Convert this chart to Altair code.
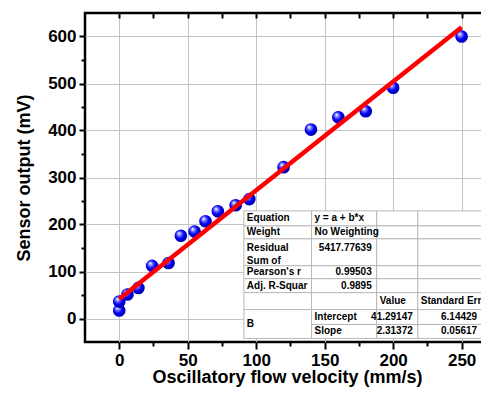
import altair as alt
import pandas as pd

# ---- data ----
velocity = [0, 0, 6, 14, 24, 36, 45, 55, 63, 72, 85, 95, 120, 140, 160, 180, 200, 250]
output = [17, 36, 51, 65, 112, 118, 176, 185, 207, 228, 241, 254, 322, 402, 428, 441, 491, 600]

fit_intercept = 41.29147
fit_slope = 2.31372
fit_range = [0, 250]

x_major = [0, 50, 100, 150, 200, 250]
x_minor = [25, 75, 125, 175, 225]
y_major = [0, 100, 200, 300, 400, 500, 600]
y_minor = [50, 150, 250, 350, 450, 550]

table_rows = [
    ["Equation", "y = a + b*x", "", ""],
    ["Weight", "No Weighting", "", ""],
    ["Residual\nSum of", "5417.77639", "", ""],
    ["Pearson's r", "0.99503", "", ""],
    ["Adj. R-Squar", "0.9895", "", ""],
    ["", "", "Value", "Standard Err"],
    ["B", "Intercept", "41.29147", "6.14429"],
    ["", "Slope", "2.31372", "0.05617"],
]

# ---- layout (in data units of the chart) ----
tcols = [91, 140.4, 188, 218, 265]
trows = [229, 197, 169.5, 112.3, 84.7, 55, 19, -12.7, -42.4]

FONT = "Liberation Sans"
W, H = 404, 329
xs = alt.Scale(domain=[-25, 270], nice=False, zero=False)
ys = alt.Scale(domain=[-50, 650], nice=False, zero=False)

pts = pd.DataFrame({"v": velocity, "s": output})

common_axis = dict(domain=False, tickColor="black", tickWidth=2, labelColor="black",
                   labelFont=FONT, labelFontWeight="bold", titleFont=FONT,
                   titleFontWeight="bold", titleColor="black")

grad = alt.RadialGradient(
    gradient="radial",
    stops=[alt.GradientStop(color="#ffffff", offset=0),
           alt.GradientStop(color="#8080ff", offset=0.22),
           alt.GradientStop(color="#0000ff", offset=0.55),
           alt.GradientStop(color="#000090", offset=1)],
    x1=0.35, y1=0.3, r1=0.02, x2=0.45, y2=0.45, r2=0.6)

points = alt.Chart(pts).mark_point(filled=True, shape="circle", size=160, fill=grad,
                                   opacity=1, strokeWidth=0).encode(
    x=alt.X("v:Q", scale=xs, axis=alt.Axis(
        orient="bottom", values=x_major, tickSize=7, labelFontSize=17, labelPadding=3,
        grid=True, gridColor="#c4c4c4", gridWidth=1,
        title="Oscillatory flow velocity (mm/s)", titleFontSize=18, titlePadding=0,
        **common_axis)),
    y=alt.Y("s:Q", scale=ys, axis=alt.Axis(
        orient="left", values=y_major, tickSize=6, labelFontSize=17, labelPadding=3,
        grid=True, gridColor="#c4c4c4", gridWidth=1,
        title="Sensor output (mV)", titleFontSize=18, titlePadding=14,
        **common_axis)),
)

minor = alt.Chart(pts).mark_point(opacity=0).encode(
    x=alt.X("v:Q", scale=xs, axis=alt.Axis(orient="bottom", values=x_minor, tickSize=4,
                                           labels=False, grid=False, title=None, **common_axis)),
    y=alt.Y("s:Q", scale=ys, axis=alt.Axis(orient="left", values=y_minor, tickSize=4,
                                           labels=False, grid=False, title=None, **common_axis)),
)

inner = alt.Chart(pts).mark_point(opacity=0).encode(
    x=alt.X("v:Q", scale=xs, axis=alt.Axis(orient="top", values=x_major + x_minor, tickSize=5,
                                           offset=-5, labels=False, grid=False, title=None,
                                           **common_axis)),
    y=alt.Y("s:Q", scale=ys, axis=alt.Axis(orient="right", values=y_major + y_minor, tickSize=5,
                                           offset=-5, labels=False, grid=False, title=None,
                                           **common_axis)),
)

fit = alt.Chart(pd.DataFrame({"v": fit_range})).transform_calculate(
    s=f"{fit_intercept} + {fit_slope} * datum.v"
).mark_line(color="#ff0000", strokeWidth=4.5).encode(
    x=alt.X("v:Q", scale=xs, axis=None),
    y=alt.Y("s:Q", scale=ys, axis=None),
)

# ---- table ----
cells = []
for r in range(len(table_rows)):
    for c in range(4):
        if c == 0 and r == 7:
            continue
        y2 = trows[8] if (c == 0 and r == 6) else trows[r + 1]
        cells.append({"x": tcols[c], "x2": tcols[c + 1], "y": trows[r], "y2": y2})
cells_df = pd.DataFrame(cells)

rects = alt.Chart(cells_df).mark_rect(fill="white", stroke="#b8b8b8", strokeWidth=1,
                                      clip=True).encode(
    x=alt.X("x:Q", scale=xs, axis=None), x2="x2:Q",
    y=alt.Y("y:Q", scale=ys, axis=None), y2="y2:Q",
)


def is_num(t):
    try:
        float(t)
        return True
    except ValueError:
        return False


groups = {}
for r, row in enumerate(table_rows):
    for c, t in enumerate(row):
        if not t:
            continue
        num = is_num(t)
        align = "right" if num else "left"
        x = tcols[c + 1] if num else tcols[c]
        if r == 2:
            baseline, y = "top", trows[r]
        elif r == 6 and c == 0:
            baseline, y = "middle", (trows[6] + trows[8]) / 2
        else:
            baseline, y = "middle", (trows[r] + trows[r + 1]) / 2
        groups.setdefault((align, baseline), []).append({"x": x, "y": y, "t": t})

text_layers = []
for (align, baseline), rows in groups.items():
    text_layers.append(
        alt.Chart(pd.DataFrame(rows)).mark_text(
            align=align, baseline=baseline,
            dx=(3 if align == "left" else -5), dy=(4 if baseline == "top" else 0),
            font=FONT, fontSize=10, fontWeight="bold", color="black",
            lineBreak="\n", lineHeight=13, clip=True
        ).encode(
            x=alt.X("x:Q", scale=xs, axis=None),
            y=alt.Y("y:Q", scale=ys, axis=None),
            text="t:N",
        )
    )

chart = alt.layer(minor, inner, points, fit, rects, *text_layers).resolve_axis(
    x="independent", y="independent"
).properties(
    width=W, height=H,
    autosize=alt.AutoSizeParams(type="none"),
    padding={"left": 77, "top": 5, "right": -8, "bottom": 46},
    background="white",
).configure_view(stroke="black", strokeWidth=2.5)

chart.save("out.html", embed_options={"renderer": "svg", "actions": False})
